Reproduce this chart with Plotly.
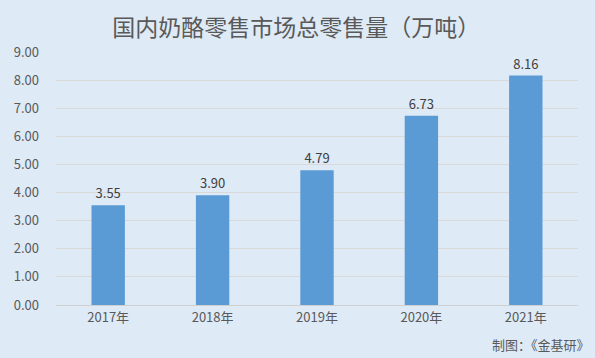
import plotly.graph_objects as go

years = ["2017年", "2018年", "2019年", "2020年", "2021年"]
values = [3.55, 3.90, 4.79, 6.73, 8.16]
tick_vals = [0, 1, 2, 3, 4, 5, 6, 7, 8, 9]
tick_text = ["%.2f" % v for v in tick_vals]

font = "Noto Sans CJK SC"
bg = "#DEEAF6"

fig = go.Figure(go.Bar(
    x=years, y=values,
    marker=dict(color="#5B9BD5", line=dict(width=0)),
    text=["%.2f" % v for v in values],
    textposition="outside",
    textfont=dict(size=13, color="#404040", family=font),
    cliponaxis=False,
    width=0.32,
))

fig.update_layout(
    width=595, height=358,
    paper_bgcolor=bg, plot_bgcolor=bg,
    margin=dict(l=56, r=17, t=52, b=53),
    showlegend=False,
    title=dict(text="国内奶酪零售市场总零售量（万吨）", x=0.498, xanchor="center",
               y=0.922, yanchor="middle",
               font=dict(size=23, color="#595959", family=font)),
    xaxis=dict(showgrid=False, showline=True, linecolor="#D0D0D0", linewidth=1,
               tickfont=dict(size=13, color="#595959", family=font), ticks="",
               automargin=False),
    yaxis=dict(range=[0, 9], tickvals=tick_vals, ticktext=tick_text,
               showgrid=True, gridcolor="#D9D9D9", gridwidth=1, zeroline=False,
               tickfont=dict(size=13, color="#595959", family=font), ticks="",
               ticklabelstandoff=16, automargin=False),
    annotations=[dict(text="制图：《金基研》", x=1, xref="paper", xanchor="right",
                      y=-0.158, yref="paper", yanchor="middle", xshift=14,
                      showarrow=False,
                      font=dict(size=13, color="#595959", family=font))],
)

fig.write_html("out.html", config={"displayModeBar": False},
               post_script="document.body.style.margin='0';document.body.style.padding='0';document.body.style.overflow='hidden';")
